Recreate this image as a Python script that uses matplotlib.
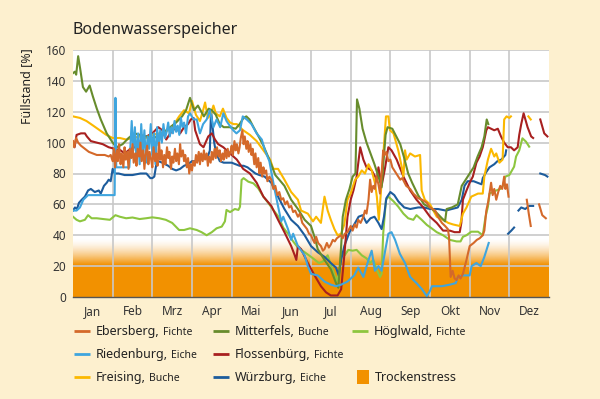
import numpy as np
import matplotlib.pyplot as plt
from matplotlib.patches import Rectangle

plt.rcParams['font.family'] = ['Noto Sans', 'DejaVu Sans']

nan = np.nan

monate = ['Jan', 'Feb', 'Mrz', 'Apr', 'Mai', 'Jun', 'Jul', 'Aug', 'Sep', 'Okt', 'Nov', 'Dez']
y_ticks = [0, 20, 40, 60, 80, 100, 120, 140, 160]

# (Monat als Dezimalzahl, Füllstand in %)
ebersberg = [
    (0.0, 101), (0.03, 97), (0.08, 103), (0.13, 100), (0.2, 98), (0.3, 96), (0.4, 94), (0.5, 93),
    (0.6, 92), (0.7, 92), (0.8, 92), (0.9, 91), (0.95, 92), (1.0, 88),
    (1.03, 96), (1.06, 84), (1.1, 95), (1.13, 88), (1.16, 99), (1.2, 86), (1.23, 93), (1.27, 84),
    (1.3, 97), (1.33, 89), (1.37, 94), (1.4, 83), (1.43, 96), (1.47, 90), (1.5, 99), (1.53, 87),
    (1.57, 93), (1.6, 85), (1.63, 96), (1.67, 91), (1.7, 100), (1.73, 88), (1.77, 95), (1.8, 83),
    (1.83, 92), (1.87, 98), (1.9, 86), (1.93, 94), (1.97, 89), (2.0, 84), (2.03, 97), (2.07, 88),
    (2.1, 93), (2.13, 85), (2.17, 100), (2.2, 89), (2.23, 95), (2.27, 84), (2.3, 92), (2.33, 86),
    (2.37, 97), (2.4, 90), (2.43, 94), (2.47, 83), (2.5, 91), (2.53, 87), (2.57, 96), (2.6, 88),
    (2.63, 93), (2.67, 86), (2.7, 99), (2.73, 91), (2.77, 95), (2.8, 88), (2.83, 92), (2.87, 84),
    (2.9, 90), (2.93, 80), (2.97, 86),
    (3.0, 82), (3.03, 88), (3.07, 85), (3.1, 92), (3.13, 87), (3.17, 94), (3.2, 86), (3.23, 93),
    (3.27, 88), (3.3, 95), (3.33, 89), (3.37, 93), (3.4, 85), (3.43, 91), (3.47, 87), (3.5, 94),
    (3.53, 89), (3.57, 96), (3.6, 90), (3.63, 97), (3.67, 91), (3.7, 95), (3.73, 88), (3.77, 93),
    (3.8, 89), (3.83, 95), (3.87, 90), (3.9, 96), (3.93, 91), (3.97, 94), (4.0, 98), (4.03, 92),
    (4.07, 101), (4.1, 95), (4.13, 99), (4.17, 93), (4.2, 97), (4.23, 103), (4.27, 108), (4.3, 99),
    (4.33, 104), (4.37, 96), (4.4, 101), (4.43, 94), (4.47, 99), (4.5, 92), (4.53, 96), (4.57, 86),
    (4.6, 93), (4.63, 84), (4.67, 90), (4.7, 80), (4.73, 87), (4.77, 78), (4.8, 84), (4.83, 80),
    (4.87, 82), (4.9, 75), (4.95, 78), (5.0, 76), (5.05, 70), (5.1, 72), (5.15, 66), (5.2, 68),
    (5.25, 63), (5.3, 64), (5.35, 60), (5.4, 62), (5.45, 58), (5.5, 59), (5.55, 55), (5.6, 56),
    (5.67, 52), (5.72, 54), (5.78, 48), (5.84, 46), (5.9, 44), (5.95, 41), (6.0, 40), (6.05, 37),
    (6.09, 35), (6.13, 39), (6.18, 35), (6.25, 33), (6.3, 30), (6.34, 31), (6.4, 35), (6.45, 32),
    (6.5, 34), (6.55, 37), (6.6, 36), (6.65, 38), (6.7, 39), (6.76, 40), (6.8, 38), (6.85, 41),
    (6.92, 42), (7.0, 46), (7.05, 43), (7.1, 47), (7.15, 45), (7.19, 50), (7.25, 48), (7.32, 52),
    (7.36, 56), (7.4, 54), (7.45, 63), (7.49, 76), (7.53, 68), (7.57, 72), (7.61, 70), (7.65, 78),
    (7.7, 73), (7.74, 67), (7.78, 80), (7.82, 95), (7.86, 92), (7.9, 94), (7.95, 88), (8.0, 89),
    (8.05, 84), (8.1, 82), (8.15, 80), (8.2, 78), (8.25, 76), (8.3, 77), (8.4, 72), (8.5, 70),
    (8.58, 67), (8.7, 64), (8.8, 63), (8.92, 61), (9.0, 58), (9.13, 56), (9.2, 52), (9.3, 48),
    (9.38, 46), (9.45, 44), (9.48, 39), (9.52, 13), (9.57, 17), (9.62, 12), (9.67, 11), (9.72, 14),
    (9.77, 12), (9.83, 15), (9.88, 20), (9.92, 24), (10.0, 33), (10.1, 35), (10.18, 37), (10.25, 38),
    (10.33, 40), (10.37, 43), (10.42, 56), (10.47, 62), (10.5, 67), (10.54, 74), (10.58, 66),
    (10.62, 70), (10.67, 63), (10.72, 68), (10.77, 72), (10.82, 70), (10.87, 78), (10.9, 70),
    (10.94, 73), (10.98, 65), (11.2, nan),
    (11.44, 63), (11.49, 54), (11.54, 46), (11.65, nan), (11.75, 60), (11.83, 53), (11.92, 51),
]

mitterfels = [
    (0.0, 145), (0.05, 146), (0.08, 144), (0.13, 156), (0.18, 148), (0.25, 136), (0.33, 133),
    (0.42, 137), (0.5, 130), (0.6, 122), (0.7, 115), (0.85, 106), (1.0, 100), (1.1, 97), (1.25, 99),
    (1.4, 103), (1.55, 106), (1.7, 105), (1.85, 104), (2.0, 103), (2.15, 104), (2.3, 107), (2.45, 110),
    (2.6, 113), (2.75, 117), (2.85, 121), (2.95, 129), (3.05, 121), (3.15, 124), (3.3, 117),
    (3.42, 122), (3.5, 121), (3.6, 118), (3.7, 112), (3.8, 110), (3.95, 110), (4.1, 109), (4.2, 112),
    (4.3, 116), (4.37, 117), (4.45, 115), (4.55, 110), (4.7, 103), (4.8, 98), (4.95, 89), (5.1, 79),
    (5.2, 76), (5.33, 72), (5.5, 63), (5.67, 57), (5.84, 50), (6.0, 46), (6.1, 38), (6.17, 31),
    (6.34, 24), (6.5, 18), (6.63, 9), (6.69, 6), (6.76, 33), (6.8, 52), (6.88, 63), (6.97, 70),
    (7.05, 78), (7.12, 80), (7.16, 128), (7.22, 122), (7.3, 109), (7.4, 100), (7.5, 93), (7.6, 86),
    (7.7, 78), (7.78, 71), (7.82, 85), (7.88, 105), (7.93, 110), (8.05, 109), (8.15, 104), (8.25, 99),
    (8.35, 90), (8.45, 80), (8.55, 74), (8.7, 66), (8.85, 60), (9.0, 58), (9.15, 55), (9.3, 51),
    (9.38, 49), (9.42, 57), (9.55, 58), (9.7, 60), (9.8, 72), (9.9, 76), (10.0, 80), (10.1, 84),
    (10.2, 91), (10.3, 97), (10.37, 104), (10.43, 115), (10.47, 112),
]

hoeglwald = [
    (0.0, 52), (0.09, 50), (0.175, 49), (0.3, 50), (0.38, 53), (0.47, 51), (0.6, 51), (0.76, 50.5),
    (0.93, 50), (1.07, 53), (1.18, 52), (1.34, 51), (1.5, 51.5), (1.68, 50.5), (1.84, 51), (2.0, 51.6),
    (2.175, 51), (2.34, 50), (2.5, 48), (2.675, 43.4), (2.8, 43.4), (2.95, 44.5), (3.12, 43.4),
    (3.24, 42), (3.37, 40), (3.5, 42), (3.62, 44.5), (3.75, 45.6), (3.83, 49), (3.87, 56.4), (3.96, 55),
    (4.08, 57), (4.17, 56.4), (4.21, 58.5), (4.25, 75.8), (4.3, 77), (4.42, 74.7), (4.55, 73.6),
    (4.67, 70.4), (4.8, 65), (4.93, 60.7), (5.05, 56.4), (5.18, 52), (5.3, 45), (5.42, 41), (5.55, 36),
    (5.67, 32), (5.84, 29), (6.0, 26), (6.1, 24), (6.2, 22), (6.3, 23), (6.42, 27), (6.5, 21),
    (6.58, 15), (6.65, 10), (6.72, 18), (6.77, 29), (6.85, 27), (6.94, 30.5), (7.05, 30), (7.15, 30.5),
    (7.28, 27), (7.4, 25), (7.49, 22), (7.57, 24), (7.66, 17.5), (7.74, 13), (7.78, 15), (7.82, 41),
    (7.89, 63), (7.95, 65), (8.08, 62), (8.2, 58.5), (8.33, 54), (8.45, 51), (8.58, 50), (8.66, 53),
    (8.79, 50), (8.92, 46.7), (9.04, 44.5), (9.17, 42), (9.33, 40), (9.5, 37), (9.67, 36), (9.77, 36),
    (9.83, 39), (9.92, 40), (10.04, 42.3), (10.21, 42.3), (10.33, 40), (10.4, 52), (10.46, 58.5),
    (10.5, 67), (10.58, 68), (10.67, 69), (10.77, 70), (10.83, 71.5), (10.9, 78), (11.0, 79),
    (11.12, 84.4), (11.17, 91), (11.25, 95), (11.33, 102.8), (11.42, 100.6), (11.5, 97.4),
]

riedenburg = [
    (0.0, 56), (0.09, 56), (0.175, 58), (0.26, 63), (0.38, 66), (0.68, 66), (1.0, 66), (1.05, 66),
    (1.07, 129), (1.09, 84), (1.25, 84), (1.42, 84), (1.48, 114), (1.52, 95), (1.56, 110), (1.6, 88),
    (1.64, 106), (1.68, 86), (1.72, 112), (1.76, 94), (1.8, 108), (1.84, 87), (1.88, 104), (1.92, 96),
    (1.96, 112), (2.0, 92), (2.04, 106), (2.08, 86), (2.12, 110), (2.16, 98), (2.2, 108), (2.24, 100),
    (2.28, 112), (2.32, 103), (2.36, 107), (2.4, 113), (2.44, 104), (2.48, 110), (2.52, 106),
    (2.56, 114), (2.6, 107), (2.64, 111), (2.68, 105), (2.72, 116), (2.76, 110), (2.8, 113),
    (2.85, 106), (2.9, 117), (2.95, 119), (3.04, 115), (3.12, 115), (3.2, 106), (3.28, 112),
    (3.37, 115), (3.45, 121), (3.54, 110), (3.62, 115), (3.71, 110), (3.79, 119), (3.87, 114),
    (3.95, 111), (4.04, 108), (4.12, 106), (4.21, 108), (4.28, 117), (4.38, 115), (4.5, 112),
    (4.63, 106), (4.76, 102), (4.84, 95), (4.95, 88), (5.08, 70), (5.2, 55), (5.25, 49), (5.3, 52),
    (5.42, 44), (5.5, 37), (5.55, 41), (5.67, 33), (5.84, 27), (5.92, 20), (6.0, 15), (6.17, 14),
    (6.34, 10), (6.5, 8), (6.63, 7), (6.76, 8), (6.92, 10), (7.09, 14), (7.19, 19), (7.32, 13),
    (7.45, 24), (7.53, 30), (7.61, 17), (7.7, 20), (7.78, 17), (7.87, 30), (7.95, 41), (8.03, 42),
    (8.12, 37), (8.24, 28), (8.37, 22), (8.5, 13), (8.66, 9), (8.8, 5), (8.92, 0.5), (9.0, 4),
    (9.05, 7), (9.3, 7), (9.5, 8), (9.65, 9), (9.7, 13), (9.85, 14), (10.0, 14), (10.05, 20),
    (10.17, 22), (10.28, 20), (10.37, 26), (10.48, 35),
]

flossenbuerg = [
    (0.0, 100), (0.04, 97), (0.09, 105), (0.2, 106), (0.3, 106), (0.35, 104), (0.45, 101), (0.6, 100),
    (0.75, 99), (0.9, 97), (1.05, 96), (1.2, 95), (1.3, 93), (1.4, 95), (1.55, 97), (1.7, 101),
    (1.85, 104), (2.0, 106), (2.15, 110), (2.25, 108), (2.35, 102), (2.45, 106), (2.6, 110),
    (2.7, 106), (2.8, 110), (2.9, 112), (2.97, 115), (3.04, 116), (3.08, 108), (3.2, 99), (3.29, 97),
    (3.41, 104), (3.5, 106), (3.58, 102), (3.66, 99), (3.79, 97), (3.96, 93), (4.13, 89), (4.29, 83),
    (4.46, 80), (4.63, 74), (4.8, 65), (5.0, 59), (5.17, 50), (5.33, 42), (5.5, 33), (5.59, 27),
    (5.63, 24), (5.67, 33), (5.75, 31), (5.92, 22), (6.09, 14), (6.25, 7), (6.38, 3), (6.5, 1),
    (6.67, 1), (6.76, 5), (6.84, 27), (6.92, 52), (7.0, 63), (7.07, 69), (7.15, 78), (7.24, 97),
    (7.32, 89), (7.4, 84), (7.53, 82), (7.66, 76), (7.7, 84), (7.78, 72), (7.87, 84), (7.95, 97),
    (8.03, 95), (8.16, 89), (8.33, 78), (8.5, 69), (8.66, 63), (8.83, 58), (9.0, 52), (9.17, 48),
    (9.33, 43), (9.5, 43), (9.62, 42), (9.75, 42), (9.79, 48), (9.83, 63), (9.92, 69), (10.0, 74),
    (10.08, 78), (10.17, 87), (10.25, 91), (10.33, 97), (10.42, 108), (10.46, 110), (10.54, 109),
    (10.62, 108), (10.71, 109), (10.79, 104), (10.87, 100), (10.96, 97), (11.04, 97), (11.12, 95),
    (11.21, 97), (11.25, 105), (11.3, 112), (11.36, 119), (11.46, 110), (11.55, 104), (11.6, 103),
    (11.7, nan), (11.78, 115), (11.88, 106), (11.96, 104),
]

freising = [
    (0.0, 117), (0.175, 116), (0.34, 114), (0.51, 111), (0.675, 108), (0.84, 105), (1.0, 103),
    (1.18, 103), (1.34, 102), (1.5, 103), (1.675, 104), (1.84, 103), (2.0, 105), (2.175, 106),
    (2.34, 107), (2.5, 110), (2.675, 117), (2.8, 121), (2.925, 119), (3.0, 127), (3.1, 118),
    (3.2, 114), (3.27, 120), (3.33, 126), (3.4, 116), (3.47, 118), (3.54, 124), (3.6, 119),
    (3.7, 117), (3.78, 122), (3.87, 116), (3.96, 113), (4.05, 112), (4.13, 112), (4.29, 108),
    (4.46, 105), (4.63, 101), (4.8, 95), (4.97, 89), (5.05, 83), (5.17, 83), (5.33, 76), (5.5, 68),
    (5.67, 63), (5.75, 56), (5.92, 54), (6.05, 49), (6.13, 52), (6.25, 48), (6.34, 65), (6.42, 56),
    (6.5, 50), (6.59, 44), (6.67, 40), (6.76, 41), (6.84, 47), (6.92, 63), (7.0, 67), (7.11, 76),
    (7.19, 78), (7.28, 82), (7.36, 80), (7.45, 86), (7.53, 82), (7.61, 74), (7.66, 65), (7.71, 50),
    (7.76, 67), (7.82, 91), (7.89, 117), (7.95, 117), (7.99, 108), (8.08, 106), (8.2, 95), (8.29, 84),
    (8.33, 78), (8.37, 95), (8.41, 89), (8.5, 93), (8.62, 91), (8.75, 92), (8.79, 69), (8.87, 63),
    (9.0, 60), (9.17, 52), (9.33, 50), (9.46, 48), (9.58, 47), (9.75, 46), (9.83, 54), (9.92, 58),
    (10.04, 65), (10.21, 67), (10.33, 67), (10.37, 78), (10.46, 89), (10.54, 96), (10.62, 91),
    (10.67, 93), (10.75, 87), (10.83, 89), (10.87, 115), (10.93, 117), (11.0, 116), (11.04, 117),
    (11.2, nan), (11.48, 117), (11.54, 115),
]

wuerzburg = [
    (0.0, 56), (0.05, 58), (0.1, 57), (0.15, 61), (0.22, 63), (0.3, 65), (0.38, 69), (0.45, 70),
    (0.55, 68), (0.65, 69), (0.7, 67), (0.78, 72), (0.85, 74), (0.9, 76), (0.95, 75), (1.0, 83),
    (1.05, 80), (1.15, 80), (1.3, 79), (1.5, 79), (1.7, 80), (1.85, 80), (1.95, 77), (2.0, 77),
    (2.05, 78), (2.1, 86), (2.15, 88), (2.25, 87), (2.4, 85), (2.5, 83), (2.6, 82), (2.7, 83),
    (2.8, 85), (2.9, 86), (3.0, 88), (3.1, 88), (3.2, 89), (3.3, 90), (3.4, 91), (3.45, 95),
    (3.48, 121), (3.52, 110), (3.56, 100), (3.6, 94), (3.7, 88), (3.8, 87), (3.9, 87), (4.0, 87),
    (4.1, 86), (4.2, 85), (4.3, 85), (4.4, 84), (4.5, 82), (4.6, 80), (4.7, 79), (4.83, 78),
    (5.0, 74), (5.17, 65), (5.33, 57), (5.5, 50), (5.67, 46), (5.84, 40), (6.0, 33), (6.17, 29),
    (6.34, 26), (6.5, 22), (6.63, 19), (6.7, 14), (6.76, 24), (6.84, 33), (6.97, 42), (7.09, 47),
    (7.2, 52), (7.3, 53), (7.4, 48), (7.5, 51), (7.6, 52), (7.7, 48), (7.78, 44), (7.84, 52),
    (7.9, 64), (8.0, 68), (8.1, 66), (8.2, 62), (8.35, 58), (8.5, 57), (8.7, 58), (8.85, 58),
    (9.0, 57), (9.2, 57), (9.4, 56), (9.55, 57), (9.7, 58), (9.8, 63), (9.87, 72), (9.95, 75),
    (10.1, 75), (10.2, 74), (10.3, 73), (10.33, 77), (10.42, 81), (10.5, 84), (10.62, 86), (10.7, 88),
    (10.8, 89), (10.9, 92), (10.92, 95), (10.95, nan), (10.97, 41), (11.05, 43), (11.12, 45),
    (11.18, nan), (11.23, 56), (11.3, 58), (11.4, 57), (11.5, 59), (11.6, 59), (11.7, nan),
    (11.78, 80), (11.9, 79), (11.96, 78),
]

# Reihenfolge = Zeichenreihenfolge (unten -> oben)
reihen = [
    ('Höglwald', 'Fichte', '#8dc63f', hoeglwald),
    ('Würzburg', 'Eiche', '#1d5c9c', wuerzburg),
    ('Flossenbürg', 'Fichte', '#a8201f', flossenbuerg),
    ('Freising', 'Buche', '#fbb800', freising),
    ('Mitterfels', 'Buche', '#678c2c', mitterfels),
    ('Riedenburg', 'Eiche', '#3fa5de', riedenburg),
    ('Ebersberg', 'Fichte', '#d4692a', ebersberg),
]
farbe = {name: c for name, _, c, _ in reihen}
art = {name: a for name, a, _, _ in reihen}

orange = '#f29100'
hintergrund = '#fdf0cf'

fig = plt.figure(figsize=(6, 3.99), dpi=100, facecolor=hintergrund)
ax = fig.add_axes([73 / 600, 1 - 297 / 399, 476 / 600, 247 / 399])
ax.set_facecolor('white')

# Trockenstress-Band: voll bis ~21 %, darüber Verlauf nach weiß
ax.axhspan(0, 21, color=orange, lw=0, zorder=0)
stufen = np.linspace(0, 1, 200)
verlauf = np.zeros((200, 1, 4))
verlauf[..., :3] = np.array([0xf2, 0x91, 0x00]) / 255
verlauf[:, 0, 3] = (1 - stufen) ** 1.6
ax.imshow(verlauf, extent=(0, 12, 21, 38), origin='lower', aspect='auto',
          interpolation='bilinear', zorder=0)

for g in y_ticks[1:]:
    ax.axhline(g, color='#c8c8c8', lw=1.2, zorder=1)
for m in range(1, 12):
    ax.axvline(m, color='#c8c8c8', lw=1.2, zorder=1)

for name, _, c, daten in reihen:
    d = np.array(daten, dtype=float)
    ax.plot(d[:, 0], d[:, 1], color=c, lw=1.5, solid_joinstyle='round', zorder=2)

ax.set_xlim(0, 12)
ax.set_ylim(0, 160)
ax.set_xticks(np.arange(12) + 0.5)
ax.set_xticklabels(monate)
ax.set_yticks(y_ticks)
ax.tick_params(length=0, labelsize=8.5, colors='#333333')
ax.tick_params(axis='x', pad=6)
ax.tick_params(axis='y', pad=5)
for s in ['top', 'left', 'right']:
    ax.spines[s].set_visible(False)
ax.spines['bottom'].set_color('#555555')
ax.spines['bottom'].set_linewidth(1.0)
ax.spines['bottom'].set_zorder(3)

fig.text(73 / 600, 1 - 30 / 399, 'Bodenwasserspeicher', fontsize=11.5, color='#222222',
         va='center', ha='left')
fig.text(27 / 600, 1 - 86 / 399, 'Füllstand [%]', fontsize=9, color='#222222',
         rotation=90, va='center', ha='center')

# Legende in Pixelkoordinaten
lg = fig.add_axes([0, 0, 1, 1])
lg.set_xlim(0, 600)
lg.set_ylim(399, 0)
lg.axis('off')

fig.canvas.draw()
r = fig.canvas.get_renderer()

spalten = [74, 213, 352]
zeilen = [331, 354, 377]
eintraege = [
    (0, 0, 'Ebersberg'), (1, 0, 'Mitterfels'), (2, 0, 'Höglwald'),
    (0, 1, 'Riedenburg'), (1, 1, 'Flossenbürg'),
    (0, 2, 'Freising'), (1, 2, 'Würzburg'),
]
for sp, ze, name in eintraege:
    x0, y0 = spalten[sp], zeilen[ze]
    lg.plot([x0, x0 + 16], [y0, y0], color=farbe[name], lw=2, solid_capstyle='butt')
    t = lg.text(x0 + 22, y0 + 4, name + ',', fontsize=9, color='#222222', va='baseline')
    bb = t.get_window_extent(r)
    x_end = lg.transData.inverted().transform((bb.x1, bb.y0))[0]
    lg.text(x_end + 3, y0 + 4, art[name], fontsize=7.5, color='#222222', va='baseline')

lg.add_patch(Rectangle((357, zeilen[2] - 7), 12, 14, color=orange, lw=0))
lg.text(375, zeilen[2] + 4, 'Trockenstress', fontsize=9, color='#222222', va='baseline')

fig.savefig('out.png', dpi=100, facecolor=hintergrund)
